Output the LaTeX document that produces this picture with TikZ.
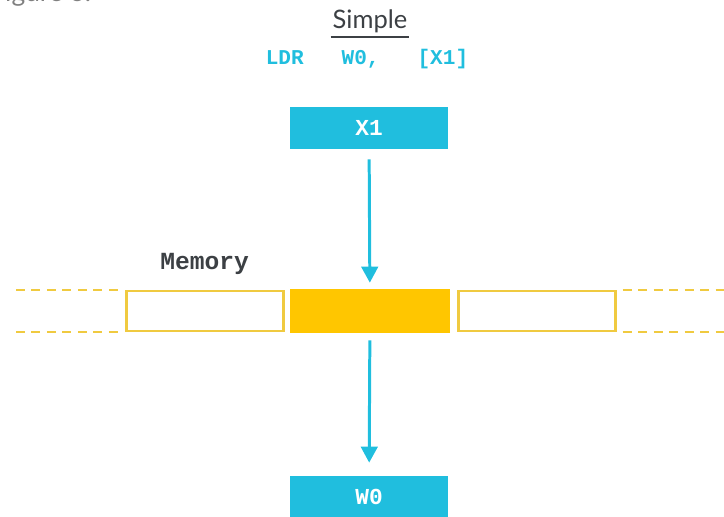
\documentclass[tikz,border=0pt]{standalone}
\usepackage{fontspec}
\setmainfont{Lato}
\setmonofont{Liberation Mono}
\usetikzlibrary{arrows.meta}
\definecolor{armcyan}{RGB}{32,190,222}
\definecolor{memfill}{RGB}{255,198,0}
\definecolor{memline}{RGB}{240,202,64}
\definecolor{inkgray}{RGB}{60,64,68}

\begin{document}
\begin{tikzpicture}[x=0.02cm,y=-0.02cm,
    reg/.style={fill=armcyan, text=white, minimum width=3.16cm, minimum height=0.84cm,
        font=\ttfamily\bfseries\fontsize{13}{13}\selectfont},
    cell/.style={draw=memline, line width=1.3pt, fill=white, minimum width=3.14cm, minimum height=0.8cm},
    memdash/.style={draw=memline, line width=1.3pt, dash pattern=on 0.18cm off 0.13cm},
    flow/.style={draw=armcyan, line width=1.7pt, -{Triangle[width=0.33cm,length=0.32cm]}}
]
        \useasboundingbox (0,0) rectangle (724,517);
        \clip (0,0) rectangle (724,517);

        % caption cut off at the top
        \node[anchor=base west, inner sep=0, text=gray, font=\fontsize{15}{15}\selectfont] (figcap) at (-10,2) {Figure 6.};

        % title and instruction
        \node[anchor=base, inner xsep=1pt, text=inkgray, font=\fontsize{14.5}{14.5}\selectfont] (title) at (370,29) {Simple};
        \draw[inkgray, line width=0.8pt] ([yshift=-0.16cm]title.base west) -- ([yshift=-0.16cm]title.base east);
        \node[anchor=base, text=armcyan, font=\ttfamily\bfseries\fontsize{12}{12}\selectfont] (instr) at (367,65) {LDR\ \ \ W0,\ \ \ [X1]};

        % registers
        \node[reg] (x1) at (369,128) {X1};
        \node[reg] (w0) at (369,497) {W0};

        % memory
        \node[anchor=base west, inner sep=0, text=inkgray, font=\ttfamily\bfseries\fontsize{14}{14}\selectfont] (memlabel) at (160,269) {Memory};
        \node[cell] (cellL) at (205,311) {};
        \node[fill=memfill, minimum width=3.2cm, minimum height=0.88cm] (cellM) at (370,311) {};
        \node[cell] (cellR) at (537,311) {};

        \coordinate (lend) at (16,0);
        \coordinate (rend) at (724,0);
        \draw[memdash] (lend |- cellL.north west) -- ([xshift=-0.06cm]cellL.north west);
        \draw[memdash] (lend |- cellL.south west) -- ([xshift=-0.06cm]cellL.south west);
        \draw[memdash] ([xshift=0.12cm]cellR.north east) -- (rend |- cellR.north east);
        \draw[memdash] ([xshift=0.12cm]cellR.south east) -- (rend |- cellR.south east);

        % loads
        \draw[flow, shorten <=0.2cm, shorten >=0.12cm] (x1) -- (cellM);
        \draw[flow, shorten <=0.14cm, shorten >=0.26cm] (cellM) -- (w0);
\end{tikzpicture}
\end{document}
